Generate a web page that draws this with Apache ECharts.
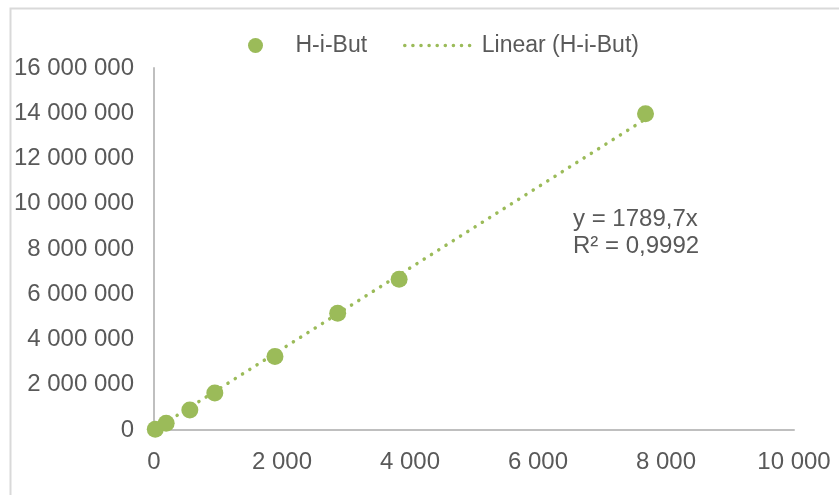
<!DOCTYPE html>
<html>
<head>
<meta charset="utf-8">
<style>
  html, body { margin: 0; padding: 0; background: #fff; }
  #chart { width: 839px; height: 495px; }
</style>
<script src="https://cdn.jsdelivr.net/npm/echarts@6/dist/echarts.min.js"></script>
</head>
<body>
<div id="chart"></div>
<script>
// Measured points: concentration (x) vs. peak area (y)
const xValues = [20, 190, 560, 950, 1890, 2870, 3830, 7680];
const yValues = [30000, 300000, 880000, 1640000, 3250000, 5160000, 6660000, 13980000];

// Linear trendline through the origin
const slope = 1789.7;
const rSquared = '0,9992';

const xTicks = { min: 0, max: 10000, interval: 2000 };
const yTicks = { min: 0, max: 16000000, interval: 2000000 };

const seriesName = 'H-i-But';
const trendName = 'Linear (H-i-But)';

const green = '#9BBB59';
const textColor = '#595959';
const axisColor = '#BFBFBF';
const fontFamily = '"Liberation Sans", Arial, sans-serif';
const fontSize = 23;
const axisFontSize = 24;

// format with a space as thousands separator
function fmt(v) {
  return String(Math.round(v)).replace(/\B(?=(\d{3})+(?!\d))/g, ' ');
}

const points = xValues.map((x, i) => [x, yValues[i]]);
const xLo = Math.min(...xValues);
const xHi = Math.max(...xValues);
const trend = [[xLo, slope * xLo], [xHi, slope * xHi]];

const dottedStyle = { color: green, width: 3.5, type: [0.1, 8.5], cap: 'round' };

const chart = echarts.init(document.getElementById('chart'), null, { renderer: 'canvas' });

chart.setOption({
  animation: false,
  textStyle: { fontFamily: fontFamily },
  grid: { left: 154, right: 45, top: 68, bottom: 65, containLabel: false },
  legend: [
    {
      data: [seriesName],
      left: 243, top: 29,
      itemWidth: 70, itemHeight: 15,
      icon: 'circle',
      textStyle: { color: textColor, fontSize: fontSize, fontFamily: fontFamily }
    },
    {
      data: [trendName],
      left: 398, top: 29,
      itemWidth: 68, itemHeight: 15,
      itemStyle: { opacity: 0 },
      lineStyle: { color: green, width: 3.5, type: [0.1, 8], cap: 'round', opacity: 1 },
      textStyle: { color: textColor, fontSize: fontSize, fontFamily: fontFamily, padding: [0, 0, 0, 4] }
    }
  ],
  xAxis: {
    type: 'value',
    min: xTicks.min, max: xTicks.max, interval: xTicks.interval,
    splitLine: { show: false },
    axisTick: { show: false },
    axisLine: { show: true, lineStyle: { color: axisColor, width: 2 } },
    axisLabel: { color: textColor, fontSize: axisFontSize, margin: 20, formatter: fmt }
  },
  yAxis: {
    type: 'value',
    min: yTicks.min, max: yTicks.max, interval: yTicks.interval,
    splitLine: { show: false },
    axisTick: { show: false },
    axisLine: { show: true, lineStyle: { color: axisColor, width: 2 } },
    axisLabel: { color: textColor, fontSize: axisFontSize, margin: 20, formatter: fmt }
  },
  series: [
    {
      name: trendName,
      type: 'line',
      data: trend,
      symbol: 'none',
      z: 1,
      lineStyle: dottedStyle,
      itemStyle: { color: green }
    },
    {
      name: seriesName,
      type: 'scatter',
      data: points,
      symbol: 'circle',
      symbolSize: 17,
      z: 2,
      itemStyle: { color: green, opacity: 1 }
    }
  ],
  graphic: [
    {
      type: 'rect',
      left: 8, top: 6,
      shape: { width: 900, height: 600 },
      style: { fill: 'none', stroke: '#D9D9D9', lineWidth: 2 },
      silent: true
    },
    {
      type: 'text',
      left: 573, top: 206,
      style: {
        text: 'y = ' + String(slope).replace('.', ',') + 'x\nR² = ' + rSquared,
        fill: textColor,
        font: axisFontSize + 'px ' + fontFamily,
        lineHeight: 27
      }
    }
  ]
});
</script>
</body>
</html>
